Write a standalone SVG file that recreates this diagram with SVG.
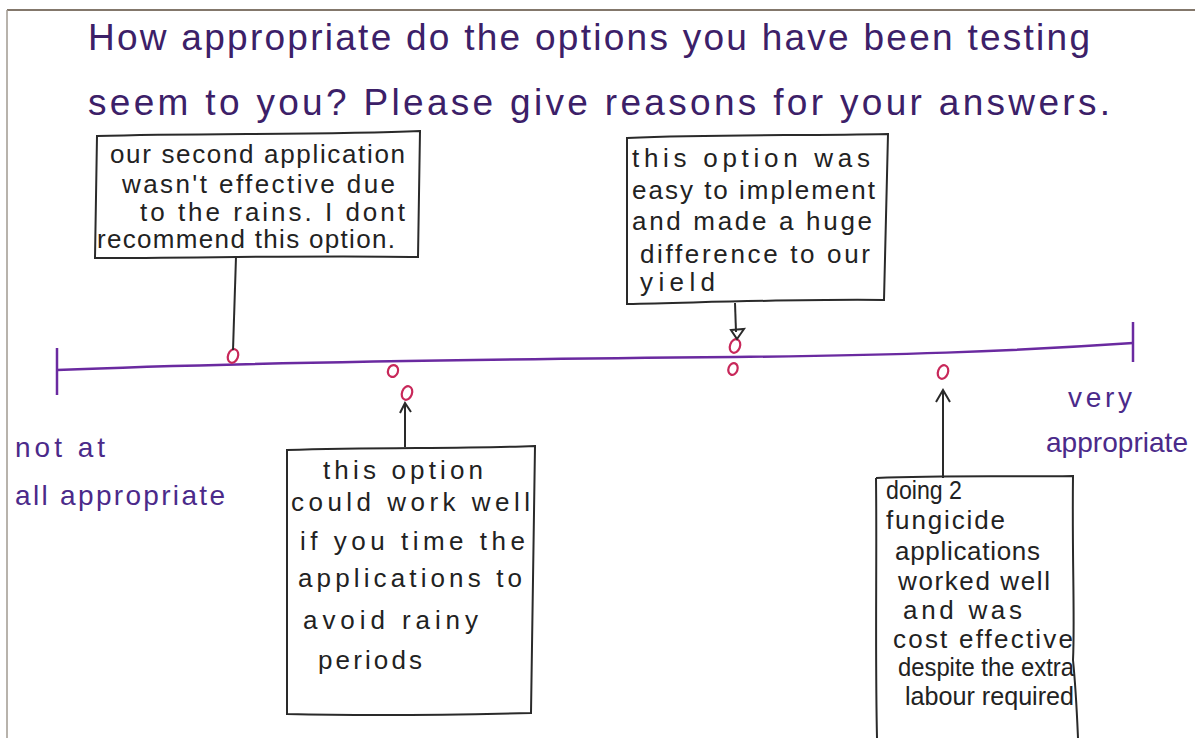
<svg xmlns="http://www.w3.org/2000/svg" width="1195" height="738" viewBox="0 0 1195 738">
<style>
.title{font-family:"Liberation Sans",Arial,sans-serif;font-size:37px;fill:#3c2068}
.lab{font-family:"Liberation Sans",Arial,sans-serif;font-size:28px;fill:#4b2a8a}
.bt{font-family:"Liberation Sans",Arial,sans-serif;font-size:26px;fill:#222}
.box{fill:none;stroke:#2a2a2a;stroke-width:2}
.con{fill:none;stroke:#2a2a2a;stroke-width:2}
.mk{fill:none;stroke:#c8285a;stroke-width:2.2}
.axis{fill:none;stroke:#6a2aa0;stroke-width:2.5}
</style>
<rect x="0" y="0" width="1195" height="738" fill="#fff"/>
<line x1="7" y1="10" x2="1195" y2="10" stroke="#5a4a3a" stroke-width="1.5"/>
<line x1="7" y1="10" x2="7" y2="738" stroke="#a09a90" stroke-width="1.5"/>

<g id="title">
<text class="title" x="88" y="50" textLength="1002" lengthAdjust="spacing">How appropriate do the options you have been testing</text>
<text class="title" x="88" y="115" textLength="1022" lengthAdjust="spacing">seem to you? Please give reasons for your answers.</text>
</g>

<g id="axis">
<path class="axis" d="M57,370 C200,364 400,360 735,357 C900,355 1000,352 1133,343"/>
<line class="axis" x1="57" y1="348" x2="57" y2="395"/>
<line class="axis" x1="1133" y1="322" x2="1133" y2="362"/>
</g>

<g id="label-left">
<text class="lab" x="15" y="457" textLength="90" lengthAdjust="spacing">not at</text>
<text class="lab" x="15" y="505" textLength="210" lengthAdjust="spacing">all appropriate</text>
</g>
<g id="label-right">
<text class="lab" x="1068" y="407" textLength="64" lengthAdjust="spacing">very</text>
<text class="lab" x="1046" y="452" textLength="142" lengthAdjust="spacingAndGlyphs">appropriate</text>
</g>

<g id="markers">
<ellipse class="mk" cx="233" cy="356" rx="5" ry="7" transform="rotate(20 233 356)"/>
<ellipse class="mk" cx="393" cy="371" rx="5" ry="6" transform="rotate(20 393 371)"/>
<ellipse class="mk" cx="407" cy="393" rx="5" ry="7" transform="rotate(20 407 393)"/>
<ellipse class="mk" cx="735" cy="346" rx="5" ry="7" transform="rotate(20 735 346)"/>
<ellipse class="mk" cx="733" cy="369" rx="4.5" ry="6" transform="rotate(20 733 369)"/>
<ellipse class="mk" cx="943" cy="372" rx="5" ry="7" transform="rotate(20 943 372)"/>
</g>

<g id="connectors">
<path class="con" d="M236,257 L233,350"/>
<path class="con" d="M735,303 L736,332"/>
<path class="con" d="M731,330 L744,329 L737,339 Z"/>
<path class="con" d="M405,447 L405,404"/>
<path class="con" d="M400,413 L405,403 L411,412"/>
<path class="con" d="M943,478 L943,391"/>
<path class="con" d="M936,402 L943,390 L950,402"/>
</g>

<g id="box1">
<path class="box" d="M97,136 C200,133 330,135 420,131 L418,257 C320,255 200,258 95,258 Z"/>
<text class="bt" x="110" y="163" textLength="295" lengthAdjust="spacing">our second application</text>
<text class="bt" x="122" y="193" textLength="273" lengthAdjust="spacing">wasn't effective due</text>
<text class="bt" x="140" y="221" textLength="265" lengthAdjust="spacing">to the rains. I dont</text>
<text class="bt" x="97" y="248" font-size="22" textLength="298" lengthAdjust="spacing">recommend this option.</text>
</g>

<g id="box3">
<path class="box" d="M627,138 C720,134 800,136 888,134 L884,300 C800,299 720,302 627,304 Z"/>
<text class="bt" x="632" y="167" textLength="238" lengthAdjust="spacing">this option was</text>
<text class="bt" x="632" y="199" textLength="243" lengthAdjust="spacing">easy to implement</text>
<text class="bt" x="632" y="230" textLength="240" lengthAdjust="spacing">and made a huge</text>
<text class="bt" x="640" y="263" textLength="230" lengthAdjust="spacing">difference to our</text>
<text class="bt" x="640" y="291" textLength="75" lengthAdjust="spacing">yield</text>
</g>

<g id="box2">
<path class="box" d="M287,450 C380,447 460,449 535,446 L531,713 C450,715 370,716 287,714 Z"/>
<text class="bt" x="323" y="479" font-size="29" textLength="160" lengthAdjust="spacing">this option</text>
<text class="bt" x="291" y="511" font-size="28" textLength="239" lengthAdjust="spacing">could work well</text>
<text class="bt" x="300" y="550" font-size="28" textLength="225" lengthAdjust="spacing">if you time the</text>
<text class="bt" x="298" y="587" font-size="28" textLength="224" lengthAdjust="spacing">applications to</text>
<text class="bt" x="303" y="629" font-size="29" textLength="175" lengthAdjust="spacing">avoid rainy</text>
<text class="bt" x="318" y="669" font-size="29" textLength="104" lengthAdjust="spacing">periods</text>
</g>

<g id="box4">
<path class="box" d="M876,478 C950,475 1010,477 1073,476 C1072,560 1075,620 1073,660 C1076,690 1077,715 1078,738 M876,478 C877,560 875,650 877,738"/>
<text class="bt" x="886" y="499" font-size="23" textLength="76" lengthAdjust="spacingAndGlyphs">doing 2</text>
<text class="bt" x="886" y="529" font-size="23" textLength="119" lengthAdjust="spacing">fungicide</text>
<text class="bt" x="895" y="560" font-size="23" textLength="145" lengthAdjust="spacing">applications</text>
<text class="bt" x="898" y="590" font-size="23" textLength="152" lengthAdjust="spacing">worked well</text>
<text class="bt" x="903" y="619" font-size="23" textLength="119" lengthAdjust="spacing">and was</text>
<text class="bt" x="893" y="648" font-size="23" textLength="180" lengthAdjust="spacing">cost effective</text>
<text class="bt" x="898" y="676" font-size="22" textLength="176" lengthAdjust="spacingAndGlyphs">despite the extra</text>
<text class="bt" x="905" y="705" font-size="22" textLength="169" lengthAdjust="spacingAndGlyphs">labour required</text>
</g>
</svg>
